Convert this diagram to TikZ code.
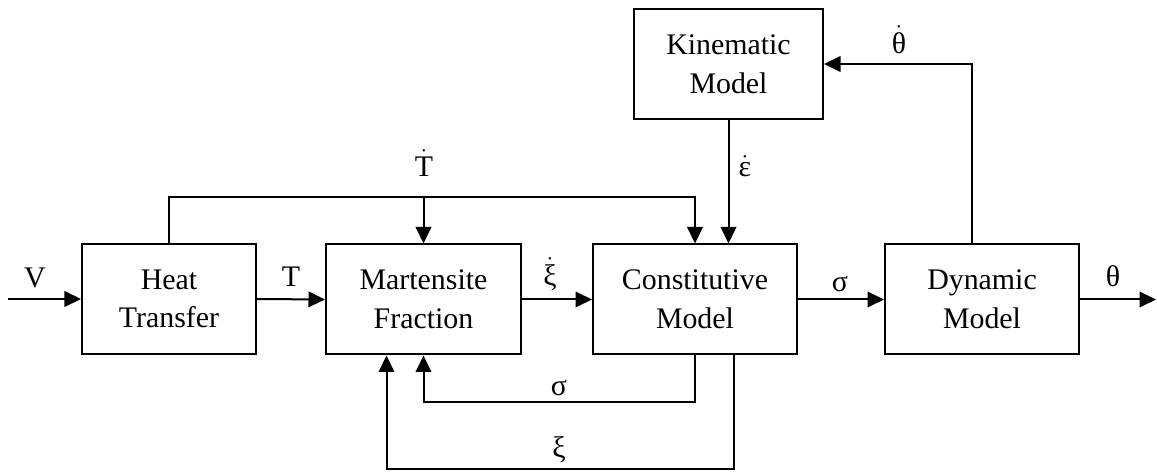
\documentclass[tikz,border=0pt]{standalone}
\usepackage{fontspec}
\setmainfont{Liberation Serif}
\usetikzlibrary{arrows.meta,calc}
\begin{document}
\begin{tikzpicture}[x=0.2mm, y=-0.2mm,
    every node/.style={font=\fontsize{17}{22}\selectfont},
    block/.style={draw, line width=0.4mm, align=center, minimum height=22mm},
    wire/.style={line width=0.4mm},
    arrow/.style={wire, -{Triangle[length=3.3mm,width=3.1mm]}}]
    \useasboundingbox (0,0) rectangle (1157,473);
    % Blocks
    \node[block, minimum width=34.8mm] (heat) at (169,299) {Heat\\Transfer};
    \node[block, minimum width=39mm] (mart) at (423.5,299.5) {Martensite\\Fraction};
    \node[block, minimum width=40.8mm] (const) at (695,299.5) {Constitutive\\Model};
    \node[block, minimum width=37.8mm] (kin) at (728.5,64) {Kinematic\\Model};
    \node[block, minimum width=38.8mm] (dyn) at (982,299.5) {Dynamic\\Model};
    % Ends and junctions
    \coordinate (vin) at (8,299);
    \coordinate (thetaout) at (1156,299.5);
    \coordinate (tdot) at (423.5,197);
    % Forward path
    \draw[arrow] (vin) -- (heat.west);
    \node (V) at (35,278) {V};
    \draw[arrow] (heat.east) -- (mart.west);
    \node (T) at (291,277) {T};
    \draw[arrow] (mart.east) -- (const.west);
    \node (xidot) at (550,274) {$\dot{\mbox{ξ}}$};
    \draw[arrow] (const.east) -- (dyn.west);
    \node (sigmaout) at (840,284) {σ};
    \draw[arrow] (dyn.east) -- (thetaout);
    \node (theta) at (1113,276) {θ};
    % Temperature rate
    \draw[arrow] (heat.north) |- (tdot) -| (const.north);
    \draw[arrow] (tdot) -- (mart.north);
    \node (Tdot) at (424,163) {$\dot{\mbox{T}}$};
    % Kinematics
    \draw[arrow] (kin.south) -- (kin.south |- const.north);
    \node (epsdot) at (745,166) {$\dot{\mbox{ε}}$};
    \draw[arrow] ($(dyn.north)+(-10,0)$) |- (kin.east);
    \node (thetadot) at (899,40) {$\dot{\mbox{θ}}$};
    % Feedback
    \draw[arrow] (const.south) -- ++(0,47) -| (mart.south);
    \node (sigmafb) at (559,388) {σ};
    \draw[arrow] ($(const.south)+(39,0)$) -- ++(0,114) -| ($(mart.south)+(-37,0)$);
    \node (xifb) at (559,450) {ξ};
\end{tikzpicture}
\end{document}
